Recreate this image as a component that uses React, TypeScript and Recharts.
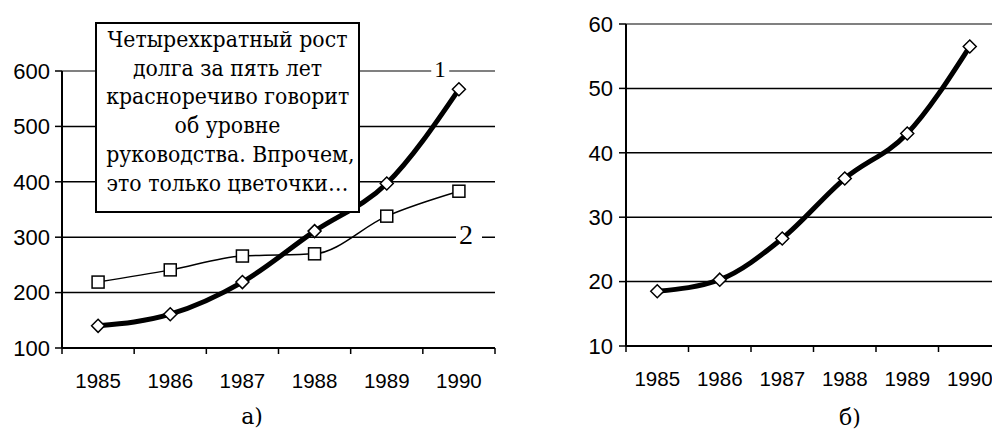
import React from 'react';
import { LineChart, Line, XAxis, YAxis, CartesianGrid, ReferenceLine } from 'recharts';

const years = ['1985', '1986', '1987', '1988', '1989', '1990'];
const debtTotal = [140, 161, 219, 311, 397, 567];
const debtOther = [219, 241, 266, 270, 338, 383];
const debtRight = [18.5, 20.3, 26.7, 36, 43, 56.5];
const leftTicks = [100, 200, 300, 400, 500, 600];
const leftGrid = [200, 300, 400, 500];
const rightTicks = [10, 20, 30, 40, 50, 60];
const rightGrid = [20, 30, 40, 50];

const noteLines = [
  'Четырехкратный рост',
  'долга за пять лет',
  'красноречиво говорит',
  'об уровне',
  'руководства. Впрочем,',
  'это только цветочки…',
];

const leftData = years.map((y, i) => ({ year: y, s1: debtTotal[i], s2: debtOther[i] }));
const rightData = years.map((y, i) => ({ year: y, v: debtRight[i] }));

const SANS = '"Liberation Sans", Arial, sans-serif';
const SERIF = '"Liberation Serif", "Times New Roman", serif';
const CYR_SERIF = '"DejaVu Serif", serif';

const Diamond = (props: any) => {
  const { cx, cy } = props;
  if (cx == null || cy == null) return null;
  const r = 6.5;
  return (
    <polygon
      points={`${cx},${cy - r} ${cx + r},${cy} ${cx},${cy + r} ${cx - r},${cy}`}
      fill="#fff"
      stroke="#000"
      strokeWidth={1.5}
    />
  );
};

const Square = (props: any) => {
  const { cx, cy } = props;
  if (cx == null || cy == null) return null;
  const s = 6;
  return <rect x={cx - s} y={cy - s} width={2 * s} height={2 * s} fill="#fff" stroke="#000" strokeWidth={1.5} />;
};

const makeXTick = (band: number, count: number) => (props: any) => {
  const { x, y, payload, index } = props;
  return (
    <g>
      <line x1={x - band / 2} x2={x - band / 2} y1={y} y2={y + 6} stroke="#000" strokeWidth={1.5} />
      {index === count - 1 && (
        <line x1={x + band / 2} x2={x + band / 2} y1={y} y2={y + 6} stroke="#000" strokeWidth={1.5} />
      )}
      <text x={x} y={y + 32} textAnchor="middle" dominantBaseline="central" fontFamily={SANS} fontSize={20.5} fill="#000">
        {payload.value}
      </text>
    </g>
  );
};

const yTickStyle = { fontFamily: SANS, fontSize: 22, fill: '#000' };

export default function App() {
  const leftW = 500;
  const leftBand = (500 - 62 - 5) / years.length;
  const rightW = 445;
  const rightBand = (445 - 66 - 4) / years.length;
  return (
    <div style={{ position: 'absolute', left: 0, top: 0, width: 992, height: 430, overflow: 'hidden', background: '#fff' }}>
      <div style={{ position: 'absolute', left: 0, top: 0 }}>
        <LineChart width={leftW} height={400} data={leftData} margin={{ top: 71, right: 5, bottom: 0, left: 0 }}>
          <CartesianGrid vertical={false} horizontalValues={leftGrid} stroke="#000" strokeWidth={1.5} />
          <ReferenceLine y={600} stroke="#808080" strokeWidth={2} />
          <XAxis
            dataKey="year"
            height={52}
            tickSize={0}
            tickMargin={0}
            tickLine={false}
            padding={{ left: leftBand / 2, right: leftBand / 2 }}
            axisLine={{ stroke: '#000', strokeWidth: 2 }}
            tick={makeXTick(leftBand, years.length)}
            interval={0}
          />
          <YAxis
            width={62}
            domain={[100, 600]}
            ticks={leftTicks}
            tickSize={7}
            tickMargin={5}
            tick={yTickStyle}
            tickLine={{ stroke: '#000', strokeWidth: 1.5 }}
            axisLine={{ stroke: '#000', strokeWidth: 2 }}
            allowDataOverflow
          />
          <YAxis
            yAxisId="border"
            orientation="right"
            width={0}
            domain={[100, 600]}
            tick={false}
            tickLine={false}
            axisLine={{ stroke: '#808080', strokeWidth: 2 }}
          />
          <Line
            type="monotone"
            dataKey="s2"
            stroke="#000"
            strokeWidth={1.5}
            dot={<Square />}
            isAnimationActive={false}
          />
          <Line
            type="monotone"
            dataKey="s1"
            stroke="#000"
            strokeWidth={5}
            dot={<Diamond />}
            isAnimationActive={false}
          />
        </LineChart>
      </div>

      <div style={{ position: 'absolute', left: 560, top: 0 }}>
        <LineChart width={rightW} height={400} data={rightData} margin={{ top: 24, right: 4, bottom: 0, left: 0 }}>
          <CartesianGrid vertical={false} horizontalValues={rightGrid} stroke="#000" strokeWidth={1.5} />
          <ReferenceLine y={60} stroke="#808080" strokeWidth={2} />
          <XAxis
            dataKey="year"
            height={54}
            tickSize={0}
            tickMargin={0}
            tickLine={false}
            padding={{ left: rightBand / 2, right: rightBand / 2 }}
            axisLine={{ stroke: '#000', strokeWidth: 2 }}
            tick={makeXTick(rightBand, years.length)}
            interval={0}
          />
          <YAxis
            width={66}
            domain={[10, 60]}
            ticks={rightTicks}
            tickSize={7}
            tickMargin={6}
            tick={yTickStyle}
            tickLine={{ stroke: '#000', strokeWidth: 1.5 }}
            axisLine={{ stroke: '#000', strokeWidth: 2 }}
            allowDataOverflow
          />
          <Line
            type="monotone"
            dataKey="v"
            stroke="#000"
            strokeWidth={5}
            dot={<Diamond />}
            isAnimationActive={false}
          />
        </LineChart>
      </div>

      <div
        style={{
          position: 'absolute',
          left: 95,
          top: 22,
          width: 265,
          height: 191,
          boxSizing: 'border-box',
          border: '2px solid #000',
          background: '#fff',
          color: '#000',
        }}
      >
        <div
          style={{
            fontFamily: CYR_SERIF,
            fontSize: 22,
            lineHeight: '28.7px',
            textAlign: 'center',
            paddingTop: 2,
            whiteSpace: 'nowrap',
            transform: 'scaleX(0.93)',
            transformOrigin: '50% 50%',
          }}
        >
          {noteLines.map((l, i) => (
            <div key={i}>{l}</div>
          ))}
        </div>
      </div>

      <div
        style={{
          position: 'absolute',
          left: 440,
          top: 69,
          transform: 'translate(-50%, -50%)',
          background: '#fff',
          padding: '0 3px',
          fontFamily: SERIF,
          fontSize: 23,
          lineHeight: '23px',
        }}
      >
        1
      </div>
      <div
        style={{
          position: 'absolute',
          left: 469,
          top: 235,
          transform: 'translate(-50%, -50%)',
          background: '#fff',
          padding: '0 9px 0 3px',
          fontFamily: SERIF,
          fontSize: 28,
          lineHeight: '26px',
        }}
      >
        2
      </div>

      <div
        style={{
          position: 'absolute',
          left: 252,
          top: 417,
          transform: 'translate(-50%, -50%)',
          fontFamily: CYR_SERIF,
          fontSize: 22,
          lineHeight: '24px',
        }}
      >
        а)
      </div>
      <div
        style={{
          position: 'absolute',
          left: 850,
          top: 418,
          transform: 'translate(-50%, -50%)',
          fontFamily: CYR_SERIF,
          fontSize: 22,
          lineHeight: '24px',
        }}
      >
        б)
      </div>
    </div>
  );
}
